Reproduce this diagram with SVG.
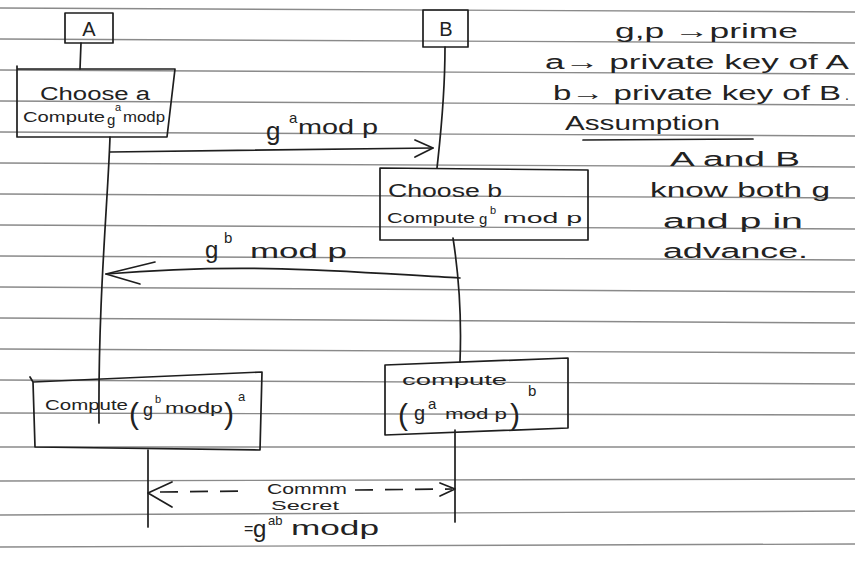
<svg xmlns="http://www.w3.org/2000/svg" width="855" height="562" viewBox="0 0 855 562">
<defs>
<style>
.rule{stroke:#8a8a8a;stroke-width:1.4;fill:none}
.ink{stroke:#1e1e1e;stroke-width:1.7;fill:none;stroke-linecap:round;stroke-linejoin:round}
.dash{stroke:#1e1e1e;stroke-width:1.7;fill:none;stroke-dasharray:18 12}
text{font-family:"Liberation Sans","DejaVu Sans",sans-serif;fill:#222222}
.t{font-size:18px}
.s{font-size:15px}
.sup{font-size:11px}
.n{font-size:20px}
</style>
</defs>
<rect width="855" height="562" fill="#ffffff"/>
<g id="paper">
<line class="rule" x1="0" y1="8" x2="855" y2="12"/>
<line class="rule" x1="0" y1="39" x2="855" y2="43"/>
<line class="rule" x1="0" y1="70" x2="855" y2="74"/>
<line class="rule" x1="0" y1="101" x2="855" y2="105"/>
<line class="rule" x1="0" y1="132" x2="855" y2="136"/>
<line class="rule" x1="0" y1="163" x2="855" y2="167"/>
<line class="rule" x1="0" y1="194" x2="855" y2="198"/>
<line class="rule" x1="0" y1="225" x2="855" y2="229"/>
<line class="rule" x1="0" y1="256" x2="855" y2="260"/>
<line class="rule" x1="0" y1="287" x2="855" y2="292"/>
<line class="rule" x1="0" y1="318" x2="855" y2="323"/>
<line class="rule" x1="0" y1="349" x2="855" y2="353"/>
<line class="rule" x1="0" y1="380" x2="855" y2="384"/>
<line class="rule" x1="0" y1="413" x2="855" y2="415"/>
<line class="rule" x1="0" y1="447" x2="855" y2="447"/>
<line class="rule" x1="0" y1="481" x2="855" y2="479"/>
<line class="rule" x1="0" y1="515" x2="855" y2="511"/>
<line class="rule" x1="0" y1="547" x2="855" y2="544"/>
</g>
<g id="connectors">
<path class="ink" d="M81,43 L80,69"/>
<path class="ink" d="M110,137 C108,200 98,300 99,423"/>
<path class="ink" d="M148,450 L148,527"/>
<path class="ink" d="M445,47 C445,100 440,140 437,168"/>
<path class="ink" d="M453,238 C458,270 462,310 460,362"/>
<path class="ink" d="M455,430 L455,522"/>
<path class="ink" d="M110,152 L433,148"/>
<path class="ink" d="M415,140 L433,148 L415,157"/>
<path class="ink" d="M460,278 C350,272 250,262 106,274"/>
<path class="ink" d="M155,262 L106,274 L140,284"/>
<path class="dash" d="M160,492 L250,491"/>
<path class="dash" d="M355,490 L452,489"/>
<path class="ink" d="M172,482 L148,493 L172,507"/>
<path class="ink" d="M440,483 L455,489 L440,496"/>
</g>
<g id="nodeA">
<rect class="ink" x="65" y="13" width="48" height="30"/>
<text class="n" x="89" y="36" text-anchor="middle">A</text>
</g>
<g id="nodeB">
<rect class="ink" x="423" y="10" width="45" height="37"/>
<text class="n" x="446" y="36" text-anchor="middle">B</text>
</g>
<g id="chooseA">
<path class="ink" d="M17,66 L17,137 L167,137 L175,69 L17,69"/>
<text class="t" x="40" y="100" textLength="110" lengthAdjust="spacingAndGlyphs">Choose a</text>
<text class="s" x="23" y="122" textLength="82" lengthAdjust="spacingAndGlyphs">Compute</text>
<text class="s" x="107" y="125">g</text>
<text class="sup" x="115" y="111">a</text>
<text class="s" x="123" y="122" textLength="42" lengthAdjust="spacingAndGlyphs">modp</text>
</g>
<g id="msg1">
<text x="266" y="140" font-size="26">g</text>
<text x="289" y="123" font-size="15">a</text>
<text x="298" y="134" font-size="20" textLength="80" lengthAdjust="spacingAndGlyphs">mod p</text>
</g>
<g id="chooseB">
<path class="ink" d="M380,168 L588,170 L588,240 L380,240 Z"/>
<text class="t" x="388" y="197" textLength="114" lengthAdjust="spacingAndGlyphs">Choose b</text>
<text class="s" x="387" y="223" textLength="88" lengthAdjust="spacingAndGlyphs">Compute</text>
<text class="s" x="479" y="224">g</text>
<text class="sup" x="490" y="214">b</text>
<text class="s" x="503" y="223" textLength="79" lengthAdjust="spacingAndGlyphs">mod p</text>
</g>
<g id="msg2">
<text x="205" y="258" font-size="24">g</text>
<text x="224" y="243" font-size="15">b</text>
<text x="250" y="258" font-size="20" textLength="97" lengthAdjust="spacingAndGlyphs">mod p</text>
</g>
<g id="computeA">
<path class="ink" d="M30,377 L33,382 L262,372 L260,450 L35,447 L33,382"/>
<text class="s" x="45" y="410" textLength="83" lengthAdjust="spacingAndGlyphs">Compute</text>
<text x="129" y="424" font-size="30">(</text>
<text x="143" y="416" font-size="18">g</text>
<text class="sup" x="155" y="403">b</text>
<text class="s" x="165" y="413" textLength="58" lengthAdjust="spacingAndGlyphs">modp</text>
<text x="224" y="424" font-size="30">)</text>
<text x="238" y="401" font-size="13">a</text>
</g>
<g id="computeB">
<path class="ink" d="M385,365 L568,358 L568,428 L385,435 Z"/>
<text class="s" x="402" y="385" textLength="105" lengthAdjust="spacingAndGlyphs">compute</text>
<text x="398" y="425" font-size="30">(</text>
<text x="414" y="420" font-size="20">g</text>
<text class="s" x="428" y="409">a</text>
<text class="s" x="445" y="419" textLength="62" lengthAdjust="spacingAndGlyphs">mod p</text>
<text x="510" y="425" font-size="30">)</text>
<text class="s" x="528" y="396">b</text>
</g>
<g id="secret">
<text class="s" x="267" y="494" textLength="80" lengthAdjust="spacingAndGlyphs">Commm</text>
<text x="271" y="510" font-size="13" textLength="68" lengthAdjust="spacingAndGlyphs">Secret</text>
<text x="244" y="534" font-size="16">=</text>
<text x="253" y="537" font-size="24">g</text>
<text x="268" y="525" font-size="13">ab</text>
<text x="291" y="535" font-size="20" textLength="88" lengthAdjust="spacingAndGlyphs">modp</text>
</g>
<g id="notes">
<text x="615" y="38" font-size="20" textLength="183" lengthAdjust="spacingAndGlyphs">g,p →prime</text>
<text x="545" y="69" font-size="20" textLength="304" lengthAdjust="spacingAndGlyphs">a→ private key of A</text>
<text x="553" y="100" font-size="20" textLength="288" lengthAdjust="spacingAndGlyphs">b→ private key of B</text>
<text x="845" y="100" font-size="14">.</text>
<text x="565" y="130" font-size="20" textLength="155" lengthAdjust="spacingAndGlyphs">Assumption</text>
<path class="ink" d="M583,140 L753,139"/>
<text x="670" y="166" font-size="20" textLength="130" lengthAdjust="spacingAndGlyphs">A and B</text>
<text x="650" y="197" font-size="20" textLength="180" lengthAdjust="spacingAndGlyphs">know both g</text>
<text x="663" y="228" font-size="20" textLength="140" lengthAdjust="spacingAndGlyphs">and p in</text>
<text x="663" y="258" font-size="20" textLength="145" lengthAdjust="spacingAndGlyphs">advance.</text>
</g>
</svg>
